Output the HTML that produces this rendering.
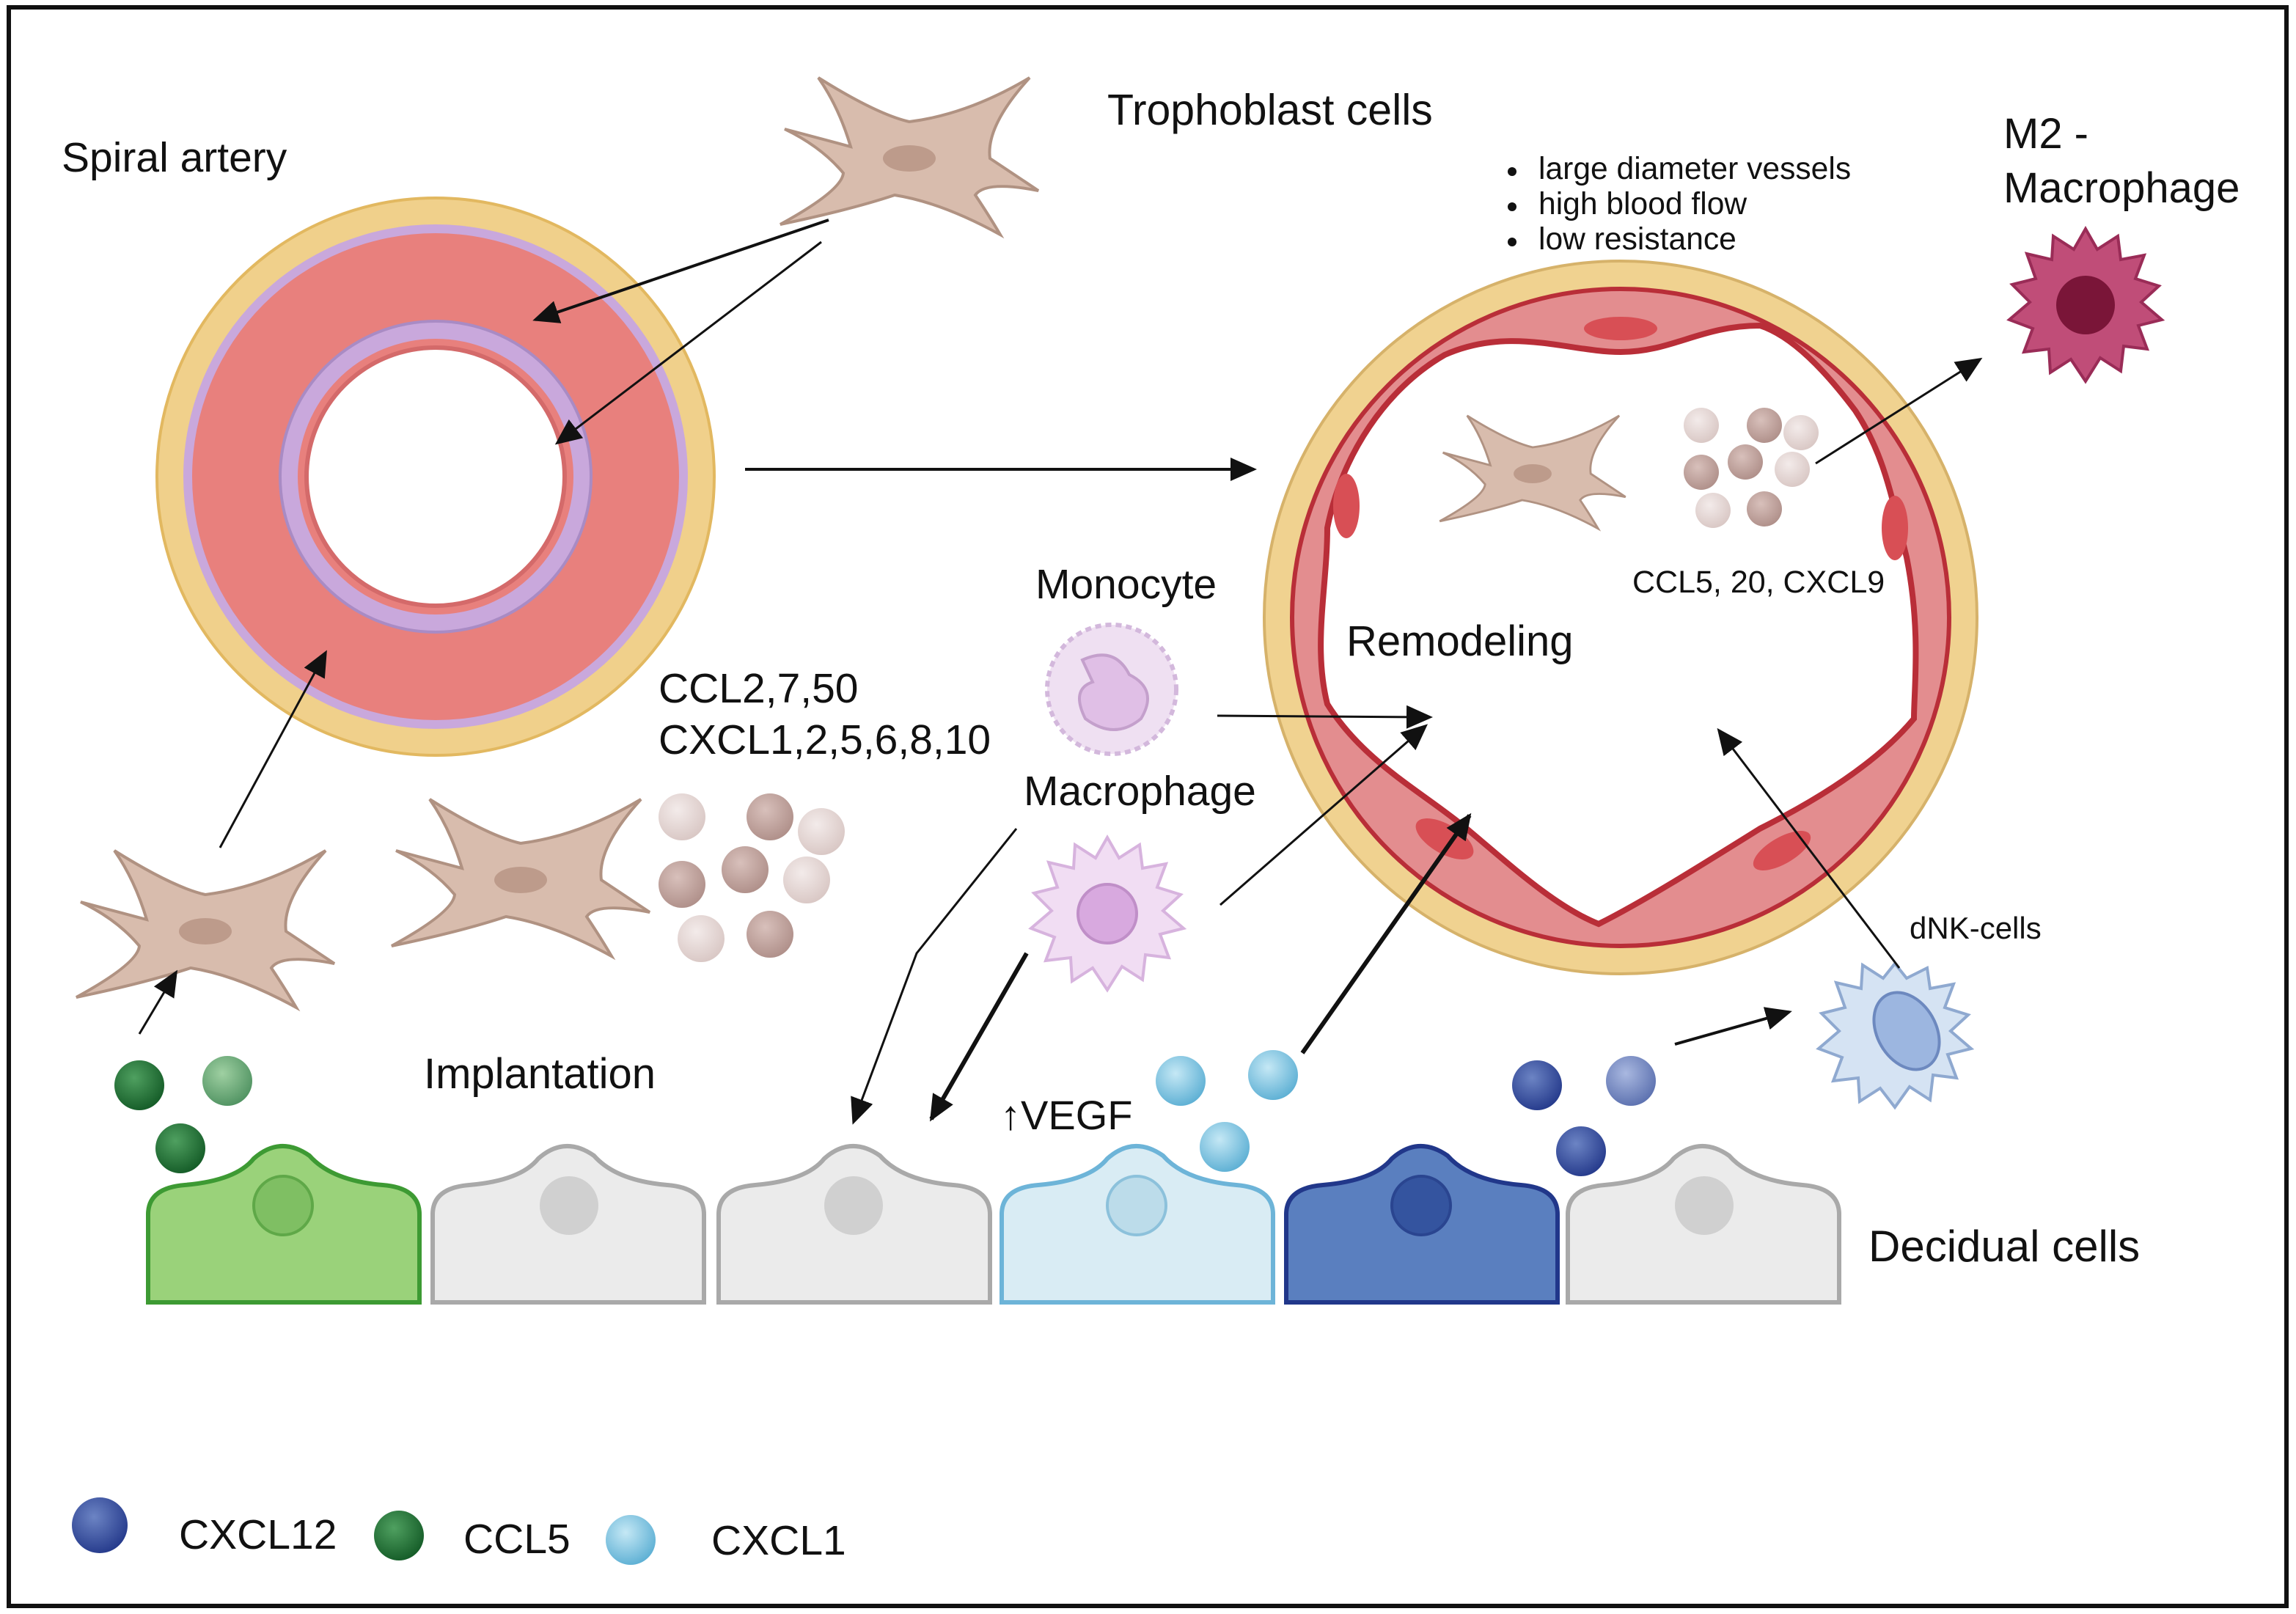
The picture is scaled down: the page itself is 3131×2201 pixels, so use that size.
<!DOCTYPE html>
<html><head><meta charset="utf-8"><style>
html,body{margin:0;padding:0;background:#fff}
svg{display:block}
text{font-family:"Liberation Sans",sans-serif;fill:#111}
</style></head><body>
<svg width="3131" height="2201" viewBox="0 0 1565.5 1100.5" xmlns="http://www.w3.org/2000/svg">
<defs>
<marker id="ahb" markerWidth="18" markerHeight="16" refX="16" refY="8" orient="auto" markerUnits="userSpaceOnUse"><path d="M0,0 L18,8 L0,16 Z" fill="#111"/></marker>
<radialGradient id="pb" cx="0.4" cy="0.35" r="0.7"><stop offset="0" stop-color="#f3ebea"/><stop offset="1" stop-color="#d8c6c3"/></radialGradient>
<radialGradient id="pd" cx="0.4" cy="0.35" r="0.7"><stop offset="0" stop-color="#d8c0bb"/><stop offset="1" stop-color="#ae8e88"/></radialGradient>
<radialGradient id="gg" cx="0.4" cy="0.35" r="0.7"><stop offset="0" stop-color="#4fa060"/><stop offset="1" stop-color="#135a26"/></radialGradient>
<radialGradient id="gl" cx="0.4" cy="0.35" r="0.7"><stop offset="0" stop-color="#9fd0a2"/><stop offset="1" stop-color="#4e9160"/></radialGradient>
<radialGradient id="lb" cx="0.4" cy="0.35" r="0.7"><stop offset="0" stop-color="#c5e8f5"/><stop offset="1" stop-color="#5aaed3"/></radialGradient>
<radialGradient id="db" cx="0.4" cy="0.35" r="0.7"><stop offset="0" stop-color="#6c84c4"/><stop offset="1" stop-color="#23388a"/></radialGradient>
<radialGradient id="dl" cx="0.4" cy="0.35" r="0.7"><stop offset="0" stop-color="#a9b8e0"/><stop offset="1" stop-color="#5a6fae"/></radialGradient>
<g id="tro"><path d="M-85,-20 L-40,-8 Q-48,-35 -62,-55 Q-22,-30 0,-25 Q40,-30 82,-55 Q52,-22 55,0 Q70,10 88,22 Q52,15 45,25 Q55,40 62,52 Q22,30 -10,25 Q-40,35 -88,45 Q-46,22 -45,10 Q-60,-8 -85,-20 Z" fill="#d8bcad" stroke="#b09282" stroke-width="2"/><ellipse cx="0" cy="0" rx="18" ry="9" fill="#bd9b8b"/></g>
<g id="cell"><path d="M0,110 L0,50 Q0,32 25,30 Q60,27 72,12 Q90,-4 110,10 Q125,27 160,30 Q185,32 185,50 L185,110 Z" stroke-width="3"/></g>
</defs>
<rect x="6" y="5" width="1553" height="1090" fill="#fff" stroke="#111" stroke-width="3"/>

<!-- left artery -->
<circle cx="297" cy="325" r="190" fill="#f0d08b" stroke="#e2b860" stroke-width="2"/>
<circle cx="297" cy="325" r="172" fill="#c9a8dc"/>
<circle cx="297" cy="325" r="166" fill="#e8807d"/>
<circle cx="297" cy="325" r="106" fill="#c9a8dc" stroke="#a98bc4" stroke-width="2"/>
<circle cx="297" cy="325" r="94" fill="#e8807d"/>
<circle cx="297" cy="325" r="88" fill="#fff" stroke="#d46a6a" stroke-width="3"/>

<!-- right vessel -->
<circle cx="1105" cy="421" r="243" fill="#f0d290" stroke="#d6b26a" stroke-width="2"/>
<circle cx="1105" cy="421" r="224" fill="#e38d8f" stroke="#b92e38" stroke-width="3"/>
<path d="M1105,240 C1140,240 1160,222 1200,222 C1225,230 1250,260 1265,280 C1285,310 1290,340 1300,380 C1310,430 1305,470 1305,490 C1280,520 1240,545 1200,565 C1160,590 1120,615 1090,630 C1060,618 1030,590 1000,565 C970,540 930,520 905,480 C895,440 905,400 905,360 C915,310 945,265 985,242 C1030,222 1070,240 1105,240 Z" fill="#fff" stroke="#b92e38" stroke-width="4"/>
<ellipse cx="1105" cy="224" rx="25" ry="8" fill="#d84f55"/>
<ellipse cx="918" cy="345" rx="9" ry="22" fill="#d84f55"/>
<ellipse cx="1292" cy="360" rx="9" ry="22" fill="#d84f55"/>
<ellipse cx="985" cy="572" rx="22" ry="10" fill="#d84f55" transform="rotate(30 985 572)"/>
<ellipse cx="1215" cy="580" rx="22" ry="9" fill="#d84f55" transform="rotate(-30 1215 580)"/>

<!-- trophoblasts -->
<use href="#tro" transform="translate(620,108)"/>
<use href="#tro" transform="translate(140,635)"/>
<use href="#tro" transform="translate(355,600)"/>
<use href="#tro" transform="translate(1045,323) scale(0.72)"/>

<!-- particle clusters -->
<g>
<circle cx="465" cy="557" r="16" fill="url(#pb)"/><circle cx="525" cy="557" r="16" fill="url(#pd)"/><circle cx="560" cy="567" r="16" fill="url(#pb)"/>
<circle cx="465" cy="603" r="16" fill="url(#pd)"/><circle cx="508" cy="593" r="16" fill="url(#pd)"/><circle cx="550" cy="600" r="16" fill="url(#pb)"/>
<circle cx="478" cy="640" r="16" fill="url(#pb)"/><circle cx="525" cy="637" r="16" fill="url(#pd)"/>
<circle cx="1160" cy="290" r="12" fill="url(#pb)"/><circle cx="1203" cy="290" r="12" fill="url(#pd)"/><circle cx="1228" cy="295" r="12" fill="url(#pb)"/>
<circle cx="1160" cy="322" r="12" fill="url(#pd)"/><circle cx="1190" cy="315" r="12" fill="url(#pd)"/><circle cx="1222" cy="320" r="12" fill="url(#pb)"/>
<circle cx="1168" cy="348" r="12" fill="url(#pb)"/><circle cx="1203" cy="347" r="12" fill="url(#pd)"/>
</g>

<!-- monocyte -->
<circle cx="758" cy="470" r="44" fill="#efe0f2" stroke="#d3b8dc" stroke-width="3" stroke-dasharray="4 3"/>
<path d="M738,450 Q760,440 770,460 Q790,470 778,490 Q760,505 740,490 Q730,470 745,465 Z" fill="#e0bfe6" stroke="#c4a0cc" stroke-width="2"/>
<!-- macrophage -->
<g transform="translate(755,623)">
<path d="M0,-52 L8,-38 L22,-47 L24,-31 L40,-34 L34,-18 L50,-13 L38,-2 L52,10 L36,14 L42,30 L26,28 L24,45 L10,36 L0,52 L-10,37 L-24,46 L-25,30 L-42,32 L-36,16 L-52,10 L-38,-2 L-50,-14 L-34,-18 L-40,-35 L-23,-31 L-22,-47 L-8,-38 Z" fill="#f1ddf3" stroke="#d7b3de" stroke-width="2"/>
<circle r="20" fill="#d8a9df" stroke="#c08fc8" stroke-width="2"/>
</g>
<!-- M2 macrophage -->
<g transform="translate(1422,208)">
<path d="M0,-52 L8,-38 L22,-47 L24,-31 L40,-34 L34,-18 L50,-13 L38,-2 L52,10 L36,14 L42,30 L26,28 L24,45 L10,36 L0,52 L-10,37 L-24,46 L-25,30 L-42,32 L-36,16 L-52,10 L-38,-2 L-50,-14 L-34,-18 L-40,-35 L-23,-31 L-22,-47 L-8,-38 Z" fill="#c04d78" stroke="#9a2c57" stroke-width="2"/>
<circle r="20" fill="#7a1538"/>
</g>
<!-- dNK -->
<g transform="translate(1292,705)">
<path d="M0,-48 L8,-38 L22,-45 L24,-31 L40,-34 L34,-18 L50,-13 L38,-2 L52,10 L36,14 L42,30 L26,28 L24,45 L10,36 L0,50 L-10,37 L-24,46 L-25,30 L-42,32 L-36,16 L-52,10 L-38,-2 L-50,-14 L-34,-18 L-40,-35 L-23,-31 L-22,-47 L-8,-38 Z" fill="#d5e3f3" stroke="#8fa9d0" stroke-width="2"/>
<ellipse cx="8" cy="-2" rx="20" ry="28" fill="#9cb6e0" stroke="#6d89bf" stroke-width="2" transform="rotate(-30 8 -2)"/>
</g>

<!-- decidual cells -->
<use href="#cell" transform="translate(101,778)" fill="#9ad27a" stroke="#3d9a33"/>
<use href="#cell" transform="translate(295,778)" fill="#ebebeb" stroke="#a9a9a9"/>
<use href="#cell" transform="translate(490,778)" fill="#ebebeb" stroke="#a9a9a9"/>
<use href="#cell" transform="translate(683,778)" fill="#d9ecf4" stroke="#6db4d8"/>
<use href="#cell" transform="translate(877,778)" fill="#5a7fbf" stroke="#21378a"/>
<use href="#cell" transform="translate(1069,778)" fill="#ebebeb" stroke="#a9a9a9"/>
<circle cx="193" cy="822" r="20" fill="#7fbf63" stroke="#5fa848" stroke-width="2"/>
<circle cx="388" cy="822" r="20" fill="#d0d0d0"/>
<circle cx="582" cy="822" r="20" fill="#d0d0d0"/>
<circle cx="775" cy="822" r="20" fill="#bcdcea" stroke="#8cc1db" stroke-width="2"/>
<circle cx="969" cy="822" r="20" fill="#34549f" stroke="#2a4590" stroke-width="2"/>
<circle cx="1162" cy="822" r="20" fill="#d0d0d0"/>

<!-- balls -->
<circle cx="95" cy="740" r="17" fill="url(#gg)"/><circle cx="155" cy="737" r="17" fill="url(#gl)"/><circle cx="123" cy="783" r="17" fill="url(#gg)"/>
<circle cx="805" cy="737" r="17" fill="url(#lb)"/><circle cx="868" cy="733" r="17" fill="url(#lb)"/><circle cx="835" cy="782" r="17" fill="url(#lb)"/>
<circle cx="1048" cy="740" r="17" fill="url(#db)"/><circle cx="1112" cy="737" r="17" fill="url(#dl)"/><circle cx="1078" cy="785" r="17" fill="url(#db)"/>
<circle cx="68" cy="1040" r="19" fill="url(#db)"/><circle cx="272" cy="1047" r="17" fill="url(#gg)"/><circle cx="430" cy="1050" r="17" fill="url(#lb)"/>

<!-- arrows -->
<g stroke="#111" fill="none">
<line x1="565" y1="150" x2="365" y2="218" stroke-width="2" marker-end="url(#ahb)"/>
<line x1="560" y1="165" x2="380" y2="302" stroke-width="1.5" marker-end="url(#ahb)"/>
<line x1="508" y1="320" x2="855" y2="320" stroke-width="2" marker-end="url(#ahb)"/>
<line x1="150" y1="578" x2="222" y2="445" stroke-width="1.5" marker-end="url(#ahb)"/>
<line x1="95" y1="705" x2="120" y2="663" stroke-width="1.5" marker-end="url(#ahb)"/>
<line x1="830" y1="488" x2="975" y2="489" stroke-width="1.5" marker-end="url(#ahb)"/>
<line x1="832" y1="617" x2="972" y2="495" stroke-width="1.5" marker-end="url(#ahb)"/>
<line x1="888" y1="718" x2="1002" y2="556" stroke-width="3" marker-end="url(#ahb)"/>
<line x1="1295" y1="660" x2="1172" y2="498" stroke-width="1.5" marker-end="url(#ahb)"/>
<line x1="1238" y1="316" x2="1350" y2="245" stroke-width="1.5" marker-end="url(#ahb)"/>
<line x1="1142" y1="712" x2="1220" y2="690" stroke-width="2" marker-end="url(#ahb)"/>
<polyline points="693,565 625,650 582,765" stroke-width="1.5" marker-end="url(#ahb)"/>
<line x1="700" y1="650" x2="635" y2="763" stroke-width="3" marker-end="url(#ahb)"/>
</g>

<!-- text -->
<text x="42" y="117" font-size="28.5">Spiral artery</text>
<text x="755" y="85" font-size="29.5">Trophoblast cells</text>
<text x="1366" y="101" font-size="29">M2 -</text>
<text x="1366" y="138" font-size="29">Macrophage</text>
<circle cx="1031" cy="117" r="3" fill="#111"/><circle cx="1031" cy="141" r="3" fill="#111"/><circle cx="1031" cy="165" r="3" fill="#111"/>
<text x="1049" y="122" font-size="21.3">large diameter vessels</text>
<text x="1049" y="146" font-size="21.3">high blood flow</text>
<text x="1049" y="170" font-size="21.3">low resistance</text>
<text x="1113" y="404" font-size="21.5">CCL5, 20, CXCL9</text>
<text x="918" y="447" font-size="29">Remodeling</text>
<text x="706" y="408" font-size="28.5">Monocyte</text>
<text x="698" y="549" font-size="28.5">Macrophage</text>
<text x="449" y="479" font-size="28.5">CCL2,7,50</text>
<text x="449" y="514" font-size="28.5">CXCL1,2,5,6,8,10</text>
<text x="289" y="742" font-size="29">Implantation</text>
<text x="682" y="770" font-size="28">↑VEGF</text>
<text x="1302" y="640" font-size="21">dNK-cells</text>
<text x="1274" y="860" font-size="30">Decidual cells</text>
<text x="122" y="1056" font-size="28.5">CXCL12</text>
<text x="316" y="1059" font-size="28.5">CCL5</text>
<text x="485" y="1060" font-size="28.5">CXCL1</text>
</svg>
</body></html>
